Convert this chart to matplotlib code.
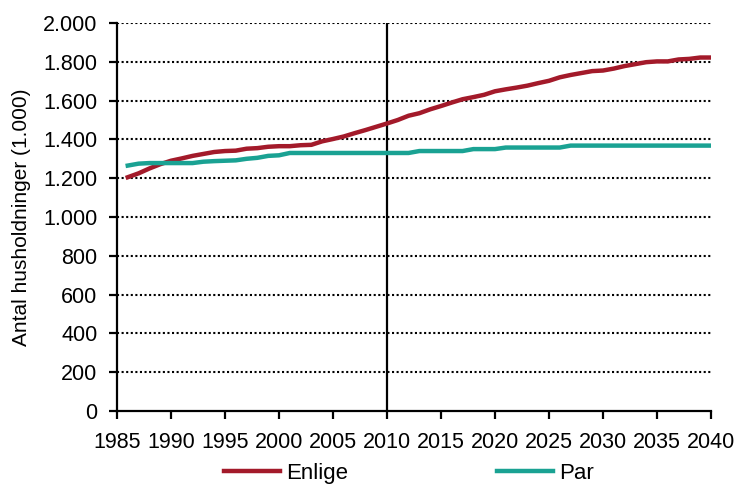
import matplotlib
matplotlib.use("Agg")
import matplotlib.pyplot as plt
from matplotlib.ticker import FuncFormatter

plt.rcParams['font.family'] = ['Liberation Sans', 'DejaVu Sans']

years = list(range(1986, 2041))

enlige = [1205, 1225, 1250, 1272, 1290, 1302, 1315, 1325, 1335, 1340,
          1342, 1352, 1355, 1362, 1365, 1365, 1370, 1372, 1390, 1402,
          1415, 1432, 1448, 1465, 1482, 1500, 1522, 1535, 1555, 1572,
          1590, 1607, 1618, 1630, 1648, 1658, 1667, 1677, 1690, 1702,
          1720, 1732, 1742, 1752, 1755, 1765, 1778, 1788, 1798, 1802,
          1802, 1812, 1815, 1822, 1822]

par = [1265, 1275, 1278, 1278, 1278, 1278, 1278, 1285, 1288, 1290,
       1292, 1300, 1305, 1315, 1318, 1330, 1330, 1330, 1330, 1330,
       1330, 1330, 1330, 1330, 1330, 1330, 1330, 1340, 1340, 1340,
       1340, 1340, 1350, 1350, 1350, 1358, 1358, 1358, 1358, 1358,
       1358, 1368, 1368, 1368, 1368, 1368, 1368, 1368, 1368, 1368,
       1368, 1368, 1368, 1368, 1368]

xticks = list(range(1985, 2041, 5))
yticks = list(range(0, 2001, 200))

fig = plt.figure(figsize=(7.38, 4.84), dpi=100)
ax = fig.add_axes([0.1585, 0.1508, 0.8049, 0.8017])

# dotted gridlines above zero
for y in yticks[1:]:
    ax.axhline(y, color='black', linestyle=(0, (1, 1.2)), linewidth=1.5, zorder=1)

ax.axvline(2010, color='black', linewidth=1.6, zorder=2)

ax.plot(years, enlige, color='#a31a2a', linewidth=3.2, label='Enlige', zorder=3)
ax.plot(years, par, color='#1aa293', linewidth=3.2, label='Par', zorder=3)

ax.set_xlim(1985, 2040)
ax.set_ylim(0, 2000)
ax.set_xticks(xticks)
ax.set_yticks(yticks)
ax.yaxis.set_major_formatter(FuncFormatter(lambda v, p: f"{int(v):,}".replace(',', '.')))

for s in ['top', 'right']:
    ax.spines[s].set_visible(False)
for s in ['left', 'bottom']:
    ax.spines[s].set_linewidth(1.6)
ax.tick_params(axis='both', labelsize=15.5, width=1.6, length=6, direction='out')
ax.tick_params(axis='x', pad=9)
ax.tick_params(axis='y', pad=8)

ax.set_ylabel('Antal husholdninger (1.000)', fontsize=15, labelpad=9)

fig.legend(loc='center left', bbox_to_anchor=(0.3035, 0.0227), ncol=2, frameon=False,
           fontsize=16, handlelength=2.5, columnspacing=6.7, handletextpad=0.3,
           borderpad=0, borderaxespad=0)

fig.savefig('out.png', dpi=100)
